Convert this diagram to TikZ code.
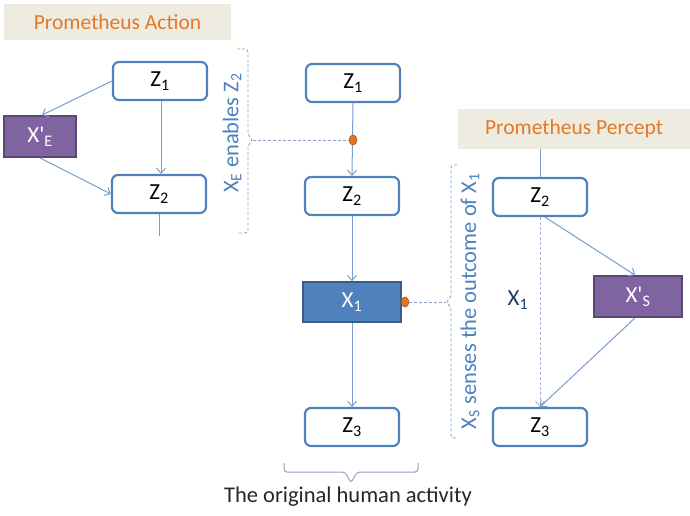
\documentclass[tikz,border=0pt]{standalone}
\usepackage{fontspec}
\setmainfont{Carlito}
\usetikzlibrary{arrows.meta,shapes.geometric}

\definecolor{zblue}{RGB}{79,129,189}
\definecolor{zblueD}{RGB}{56,93,138}
\definecolor{linkblue}{RGB}{118,156,208}
\definecolor{bracegray}{RGB}{140,162,192}
\definecolor{xpurple}{RGB}{128,100,162}
\definecolor{xpurpleD}{RGB}{92,70,120}
\definecolor{titlebg}{RGB}{238,236,225}
\definecolor{titleorange}{RGB}{228,120,40}
\definecolor{dotorange}{RGB}{228,118,32}
\definecolor{dotorangeD}{RGB}{170,80,20}
\definecolor{navy}{RGB}{31,60,110}

\newcommand\boxfont{\fontsize{23}{26}\selectfont}
\newcommand\titlefont{\fontsize{21.5}{25}\selectfont}
\newcommand\notefont{\fontsize{22.5}{26}\selectfont}
\newcommand\prm{\textquotesingle}

\tikzset{
  zbox/.style={draw=zblue, line width=2.2pt, rounded corners=6pt, fill=white,
    minimum width=94pt, minimum height=38pt, inner sep=0pt, font=\boxfont},
  xbox/.style={draw=xpurpleD, line width=1.8pt, fill=xpurple, text=white,
    minimum width=72pt, minimum height=41pt, inner sep=0pt, font=\boxfont},
  actbox/.style={draw=zblueD, line width=1.8pt, fill=zblue, text=white,
    minimum width=98pt, minimum height=40pt, inner sep=0pt, font=\boxfont},
  titlebox/.style={fill=titlebg, text=titleorange, inner sep=0pt, font=\titlefont},
  link/.style={draw=linkblue, line width=1pt, -{Straight Barb[length=5pt,width=9pt]}},
  plainlink/.style={draw=linkblue, line width=1pt},
  brace/.style={draw=bracegray, line width=0.9pt, dashed, dash pattern=on 3pt off 2pt, rounded corners=3pt},
  probe/.style={ellipse, fill=dotorange, draw=dotorangeD, line width=0.6pt,
    minimum width=8pt, minimum height=10pt, inner sep=0pt},
  note/.style={text=zblue, font=\notefont, inner sep=0pt}
}

\begin{document}
\begin{tikzpicture}[x=1pt,y=-1pt]
\useasboundingbox (0,0) rectangle (690,515);

% ---- Prometheus Action (left) ----
\node[titlebox, minimum width=227pt, minimum height=36pt] (acttitle) at (117.5,22) {Prometheus Action};
\node[zbox] (Z1L) at (160,81) {Z\textsubscript{1}};
\node[xbox] (XE) at (40,136.5) {X\prm\textsubscript{E}};
\node[zbox] (Z2L) at (159,194) {Z\textsubscript{2}};
\coordinate (Z2Ltail) at (159,236);

\draw[link] (Z1L.west) -- ([xshift=2pt]XE.north);
\draw[link] ([xshift=1pt]Z1L.south) -- ([xshift=2pt]Z2L.north);
\draw[link] (XE.south) -- (Z2L.west);
\draw[plainlink] (Z2L.south) -- (Z2Ltail);

% bracket for the enabling action
\coordinate (enabletip) at (253,140);
\draw[brace] (237,49) -- (248,49) -- (248,135) -- (enabletip) -- (248,145) -- (248,233) -- (237,233);
\node[note, rotate=90] (enables) at (232,133) {X\textsubscript{E} enables Z\textsubscript{2}};

% ---- The original human activity (middle) ----
\node[zbox] (Z1M) at (353,83) {Z\textsubscript{1}};
\node[zbox] (Z2M) at (352,196) {Z\textsubscript{2}};
\node[actbox] (X1M) at (352,302) {X\textsubscript{1}};
\node[zbox] (Z3M) at (352,427) {Z\textsubscript{3}};

\draw[link] (Z1M.south) -- (Z2M.north);
\draw[link] (Z2M.south) -- (X1M.north);
\draw[link] (X1M.south) -- (Z3M.north);

\node[probe] (dotA) at (353,140) {};
\node[probe] (dotB) at ([xshift=3pt]X1M.east) {};

\draw[brace, rounded corners=0pt] (enabletip) -- (dotA.west);

% brace under the middle column
\coordinate (bracetip) at (351,483);
\draw[draw=bracegray, line width=1pt, rounded corners=3pt]
  (284,463) -- (284,472) -- (345,472) -- (bracetip) -- (357,472) -- (418,472) -- (418,463);
\node[font=\notefont, text=black!85, inner sep=0pt] (caption) at (348,497) {The original human activity};

% ---- Prometheus Percept (right) ----
\node[titlebox, minimum width=232pt, minimum height=40pt] (pertitle) at (574,129) {Prometheus Percept};
\node[zbox] (Z2R) at (540,197) {Z\textsubscript{2}};
\node[xbox, minimum width=88pt] (XS) at (638,296.5) {X\prm\textsubscript{S}};
\node[zbox] (Z3R) at (540,427) {Z\textsubscript{3}};
\node[text=navy, font=\boxfont, inner sep=0pt] (X1R) at (518,300) {X\textsubscript{1}};

\draw[plainlink] (pertitle.south -| Z2R.north) -- (Z2R.north);
\draw[link, dashed, draw=linkblue!80!gray!70, dash pattern=on 3pt off 2pt] (Z2R.south) -- (Z3R.north);
\draw[link] ([xshift=5pt]Z2R.south) -- ([xshift=-3pt]XS.north);
\draw[link] ([xshift=-3pt]XS.south) -- (Z3R.north);

% bracket for the sensing action
\coordinate (sensetip) at (446,302);
\draw[brace] (457,165) -- (451,165) -- (451,297) -- (sensetip) -- (451,307) -- (451,438) -- (457,438);
\draw[brace, rounded corners=0pt] (dotB.east) -- (sensetip);
\node[note, rotate=90] (senses) at (470,301) {X\textsubscript{S} senses the outcome of X\textsubscript{1}};

\end{tikzpicture}
\end{document}
